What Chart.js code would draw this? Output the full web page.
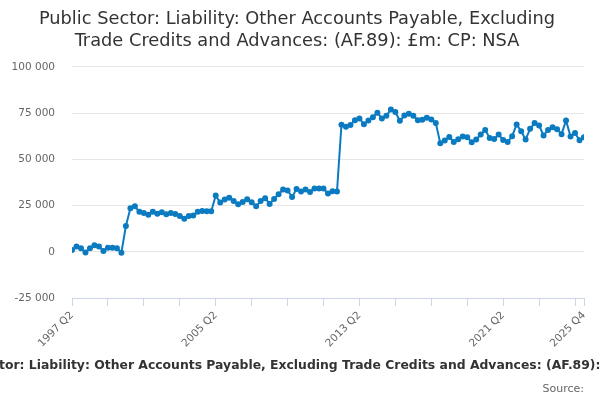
<!DOCTYPE html>
<html>
<head>
<meta charset="utf-8">
<title>AF.89 Other Accounts Payable</title>
<script src="https://cdn.jsdelivr.net/npm/chart.js@4.4.1/dist/chart.umd.min.js"></script>
<style>
  html, body { margin: 0; padding: 0; background: #fff; }
  #wrap { width: 600px; height: 400px; }
</style>
</head>
<body>
<div id="wrap"><canvas id="chart"></canvas></div>
<script>
// quarters 1997 Q2 .. 2025 Q4
const quarters = [];
for (let y = 1997; y <= 2025; y++) {
  for (let q = 1; q <= 4; q++) {
    if (y === 1997 && q === 1) continue;
    quarters.push(y + " Q" + q);
  }
}

// £m
const values = [
  1000, 2900, 2000, -400, 2000, 3600, 2900, 500, 2200, 2200,
  2000, -500, 14000, 23500, 24600, 21600, 21000, 20100, 21700, 20600,
  21400, 20300, 21000, 20500, 19400, 17900, 19400, 19600, 21700, 22100,
  21900, 21900, 30400, 26600, 28300, 29300, 27500, 25700, 27000, 28400,
  26800, 24600, 27500, 29000, 25900, 28600, 31100, 33700, 33200, 29700,
  33900, 32600, 33700, 32400, 34200, 34200, 34200, 31500, 32800, 32600,
  68700, 67600, 68500, 71200, 72100, 69000, 71000, 72800, 75200, 72100,
  73500, 77000, 75600, 70800, 73700, 74600, 73500, 71200, 71400, 72500,
  71600, 69600, 58700, 60200, 62100, 59400, 60900, 62300, 62000, 59200,
  60700, 63400, 65900, 61600, 61000, 63400, 60500, 59400, 62500, 68900,
  65200, 60700, 66500, 69600, 68300, 62900, 65900, 67400, 66300, 63600,
  71000, 62300, 64300, 60300, 62000
];

const labelledQuarters = ["1997 Q2", "2005 Q2", "2013 Q2", "2021 Q2", "2025 Q4"];
const yTicks = [-25000, 0, 25000, 50000, 75000, 100000];

const titleText = "Public Sector: Liability: Other Accounts Payable, Excluding Trade Credits and Advances: (AF.89): £m: CP: NSA";

const points = values.map((v, i) => ({ x: i, y: v }));
const lastIdx = quarters.length - 1;

function fmt(n) {
  return n.toString().replace(/\B(?=(\d{3})+(?!\d))/g, " ");
}

// the long bold caption under the axis, drawn unclipped (wider than the canvas)
const captionPlugin = {
  id: "caption",
  afterDraw(chart) {
    const ctx = chart.ctx;
    ctx.save();
    ctx.font = "bold 12.4px 'DejaVu Sans', sans-serif";
    ctx.fillStyle = "#333333";
    ctx.textAlign = "left";
    ctx.textBaseline = "middle";
    const hidden = ctx.measureText("Public Sec").width;
    ctx.fillText(titleText, -hidden - 1, 366);
    ctx.restore();
  }
};

Chart.defaults.font.family = "'DejaVu Sans', sans-serif";

new Chart(document.getElementById("chart").getContext("2d"), {
  type: "line",
  data: {
    datasets: [{
      label: titleText,
      data: points,
      borderColor: "#0b7bc1",
      backgroundColor: "#0b7bc1",
      borderWidth: 2,
      pointRadius: 2,
      pointHoverRadius: 3,
      tension: 0
    }]
  },
  plugins: [captionPlugin],
  options: {
    responsive: true,
    maintainAspectRatio: false,
    animation: false,
    layout: { padding: { left: 10, right: 16, top: 8, bottom: 4 } },
    plugins: {
      legend: { display: false },
      tooltip: { enabled: false },
      title: {
        display: true,
        text: ["Public Sector: Liability: Other Accounts Payable, Excluding", "Trade Credits and Advances: (AF.89): £m: CP: NSA"],
        color: "#333333",
        font: { size: 17.8, weight: "normal", lineHeight: 1.26 },
        padding: { top: 0, bottom: 14 }
      },
      subtitle: {
        display: true,
        position: "bottom",
        align: "end",
        text: "Source:",
        color: "#666666",
        font: { size: 11 },
        padding: { top: 30, bottom: 0 }
      }
    },
    scales: {
      x: {
        type: "linear",
        min: 0,
        max: lastIdx,
        afterBuildTicks: axis => {
          const t = [];
          for (let i = 0; i <= lastIdx; i += 8) t.push({ value: i });
          t.push({ value: lastIdx });
          axis.ticks = t;
        },
        ticks: {
          autoSkip: false,
          maxRotation: 45,
          minRotation: 45,
          color: "#666666",
          font: { size: 10.5 },
          callback: v => labelledQuarters.includes(quarters[v]) ? quarters[v] : ""
        },
        grid: {
          drawOnChartArea: false,
          color: "#ccd6eb",
          tickLength: 8
        },
        border: { color: "#ccd6eb" }
      },
      y: {
        min: -25000,
        max: 100000,
        afterBuildTicks: axis => { axis.ticks = yTicks.map(v => ({ value: v })); },
        afterFit: axis => { axis.width = 62; },
        ticks: {
          color: "#666666",
          font: { size: 10.5 },
          padding: 17,
          callback: v => fmt(v)
        },
        grid: { color: "#e6e6e6", drawTicks: false },
        border: { display: false }
      }
    }
  }
});
</script>
</body>
</html>
